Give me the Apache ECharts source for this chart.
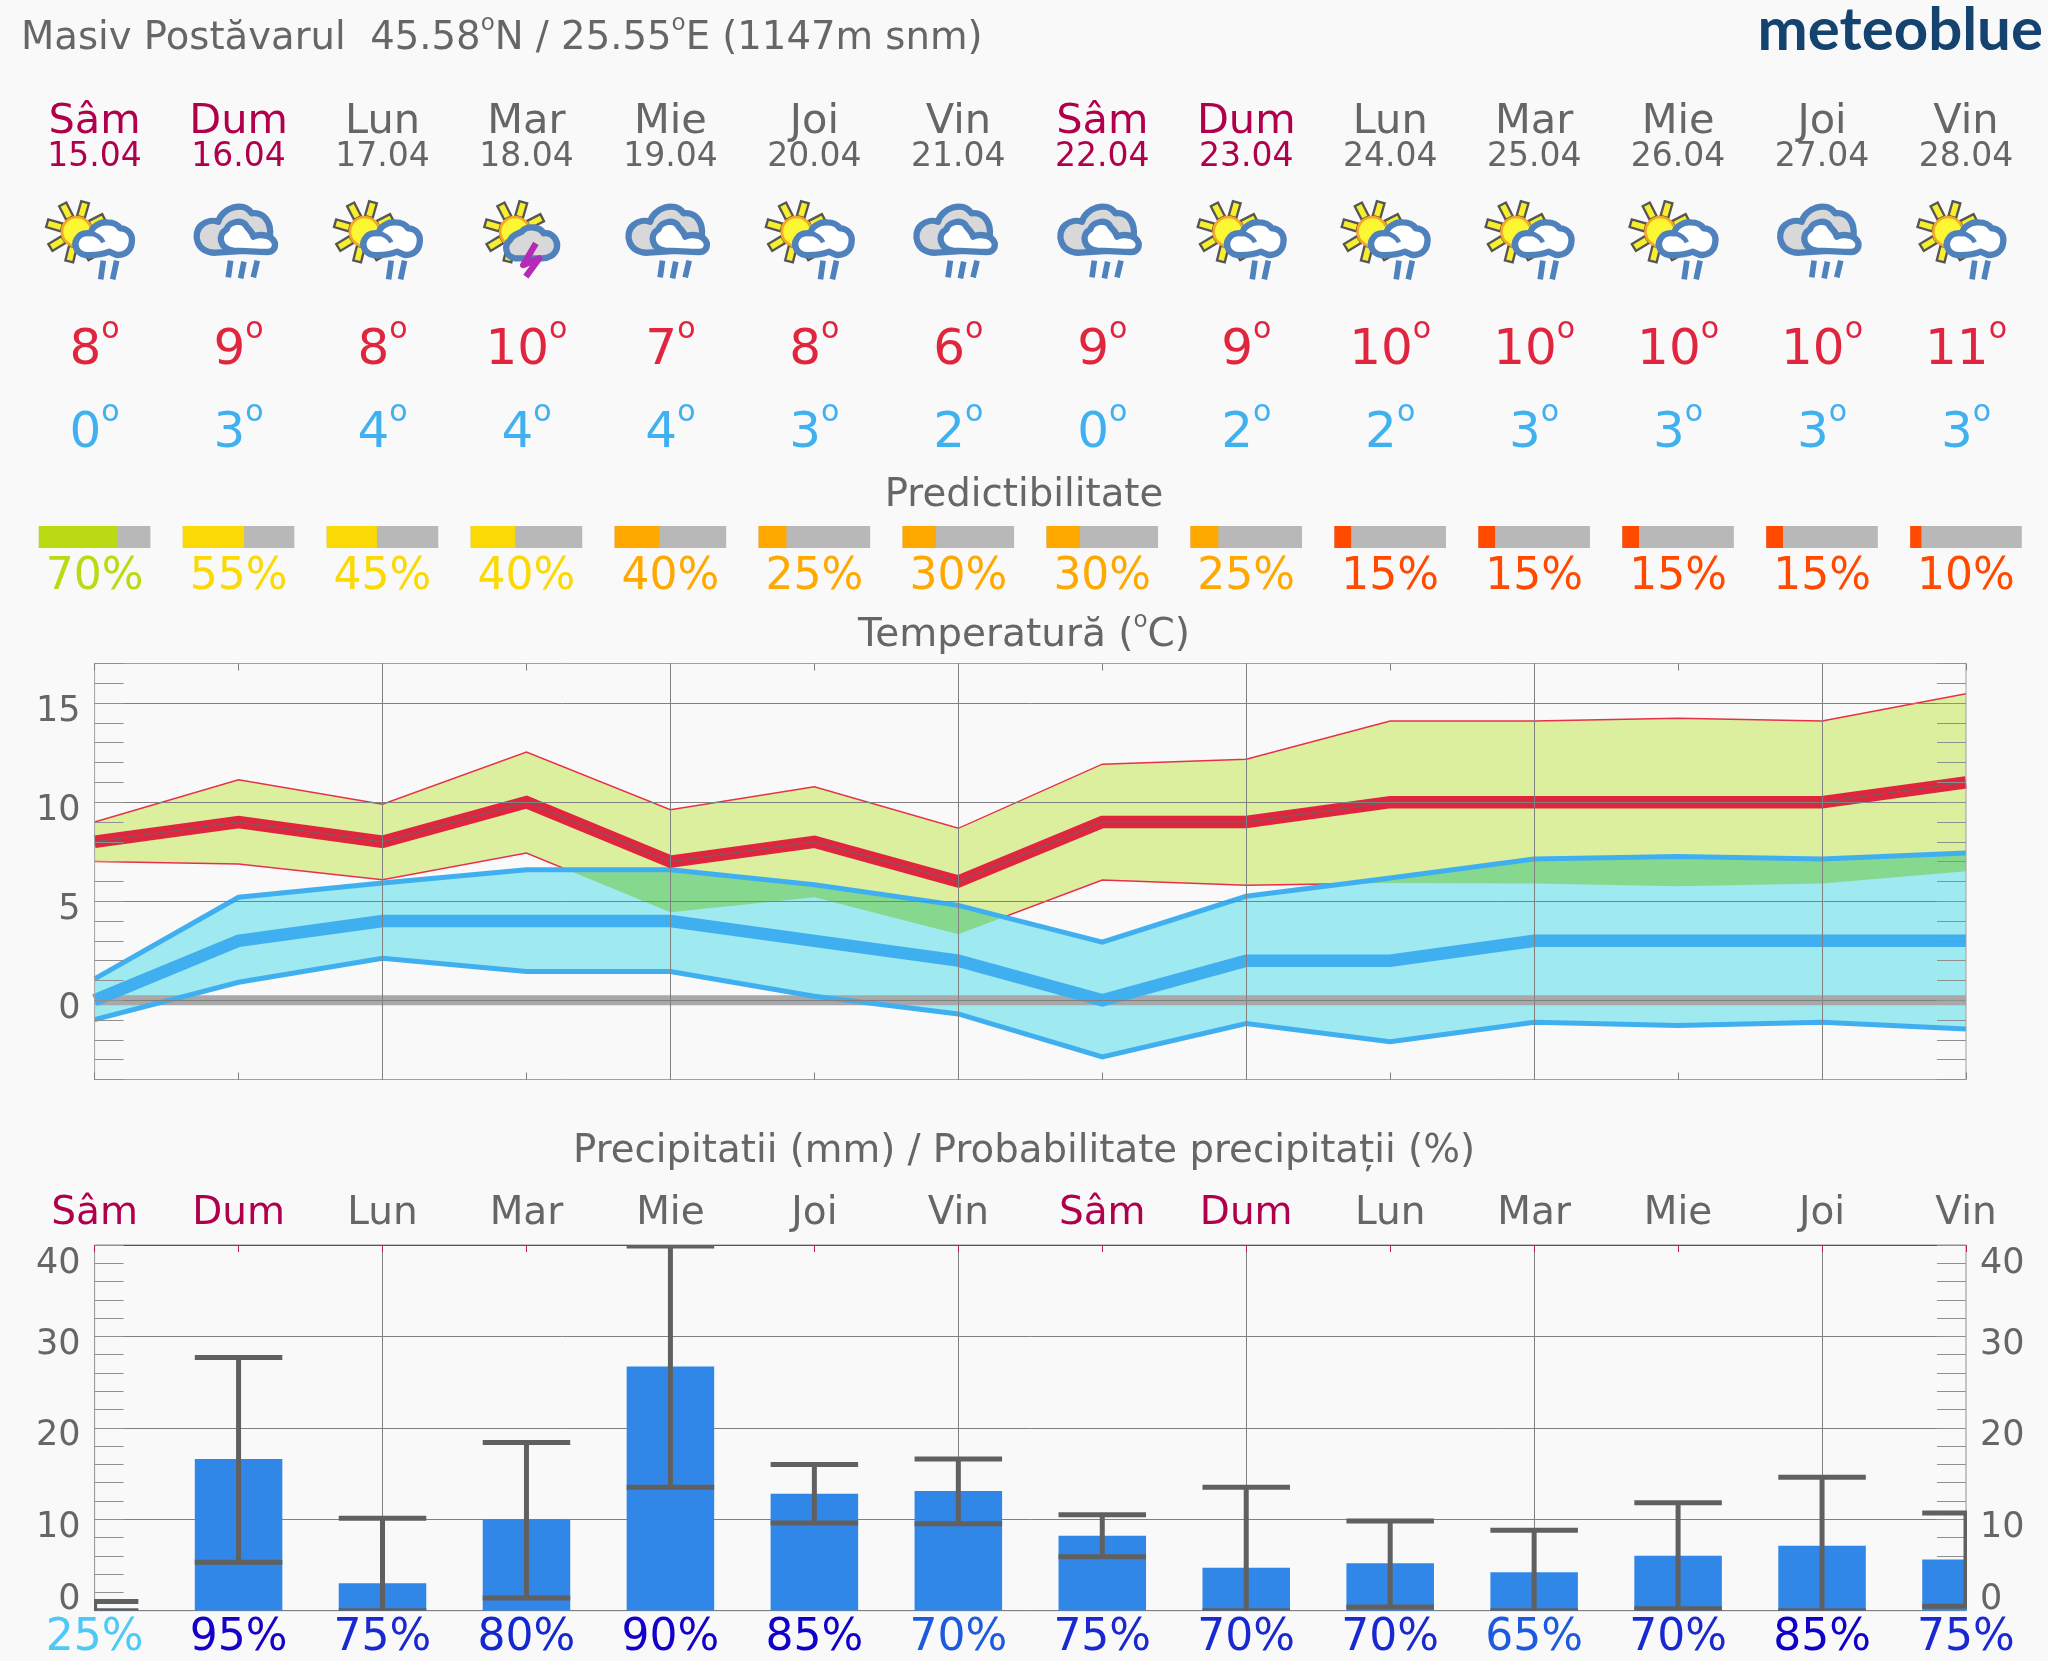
<!DOCTYPE html>
<html>
<head>
<meta charset="utf-8">
<title>meteoblue 14 zile</title>
<script src="https://cdn.jsdelivr.net/npm/echarts@6/dist/echarts.min.js"></script>
<style>
    html, body { margin: 0; padding: 0; background: #f9f9f9; }
    #chart { width: 2048px; height: 1661px; }
</style>
</head>
<body>
<div id="chart"></div>
<script>
    // zile
    const dayNames = ["Sâm", "Dum", "Lun", "Mar", "Mie", "Joi", "Vin", "Sâm", "Dum", "Lun", "Mar", "Mie", "Joi", "Vin"];
    const dayDates = ["15.04", "16.04", "17.04", "18.04", "19.04", "20.04", "21.04", "22.04", "23.04", "24.04", "25.04", "26.04", "27.04", "28.04"];
    const weekendDays = [0, 1, 7, 8];
    // 0 = soare + nor, 1 = nori, 2 = soare + fulger
    const iconTypes = [0, 1, 0, 2, 1, 0, 1, 1, 0, 0, 0, 0, 1, 0];

    const tempMaxDay = [8, 9, 8, 10, 7, 8, 6, 9, 9, 10, 10, 10, 10, 11];
    const tempMinDay = [0, 3, 4, 4, 4, 3, 2, 0, 2, 2, 3, 3, 3, 3];

    // predictibilitate
    const predictValues = [70, 55, 45, 40, 40, 25, 30, 30, 25, 15, 15, 15, 15, 10];
    const predictColors = ["#bbda14", "#fad905", "#fad905", "#fad905", "#ffa800", "#ffa800", "#ffa800", "#ffa800", "#ffa800", "#ff4a00", "#ff4a00", "#ff4a00", "#ff4a00", "#ff4a00"];

    // temperatura: benzi de incertitudine
    const redUpper = [9.0, 11.13, 9.9, 12.53, 9.62, 10.78, 8.68, 11.92, 12.17, 14.1, 14.1, 14.24, 14.1, 15.47];
    const redLower = [7.0, 6.88, 6.09, 7.43, 4.44, 5.2, 3.33, 6.07, 5.8, 5.92, 5.89, 5.75, 5.89, 6.51];
    const blueUpper = [1.08, 5.2, 5.92, 6.59, 6.59, 5.83, 4.79, 2.93, 5.25, 6.17, 7.13, 7.26, 7.13, 7.43];
    const blueLower = [-0.98, 0.91, 2.12, 1.45, 1.45, 0.2, -0.69, -2.86, -1.18, -2.09, -1.11, -1.28, -1.11, -1.45];
    const zeroLine = [0, 0, 0, 0, 0, 0, 0, 0, 0, 0, 0, 0, 0, 0];

    // precipitatii
    const precipValues = [0.1, 16.6, 3.0, 10.0, 26.7, 12.8, 13.1, 8.2, 4.7, 5.2, 4.2, 6.0, 7.1, 5.6];
    const precipHigh = [1.0, 27.7, 10.1, 18.4, 39.9, 16.0, 16.6, 10.5, 13.5, 9.8, 8.8, 11.8, 14.6, 10.7];
    const precipLow = [0, 5.3, 0, 1.4, 13.5, 9.6, 9.5, 5.9, 0, 0.4, 0, 0.2, 0, 0.5];
    const precipProb = ["25%", "95%", "75%", "80%", "90%", "85%", "70%", "75%", "70%", "70%", "65%", "70%", "85%", "75%"];
    const precipProbColors = ["#4dc9f6", "#1400c8", "#1a28d0", "#1428d2", "#1400c8", "#1000c8", "#1e5ade", "#1a28d0", "#1a28d0", "#1a28d0", "#1e5ade", "#1a28d0", "#1000c8", "#1a28d0"];

    const fontName = "DejaVu Sans";
    const textGrey = "#666666";
    const weekendColor = "#b0004c";
    const cloudBlue = "#4f81bd";
    const days = dayNames.map((d, i) => i);

    function dayColor(value, index) {
        return weekendDays.indexOf(index) >= 0 ? weekendColor : textGrey;
    }

    function ray(angle) {
        let a = angle * Math.PI / 180;
        let c = Math.cos(a), s = Math.sin(a);
        let pts = [[46, -12], [92, -12], [92, 12], [46, 12]].map(p => [p[0] * c - p[1] * s, p[0] * s + p[1] * c]);
        return {
            type: "polygon",
            shape: { points: pts },
            style: { fill: "#f7ee30", stroke: "#555555", lineWidth: 7 }
        };
    }

    function sun(x, y, angles) {
        let parts = angles.map(ray);
        parts.push({
            type: "circle",
            shape: { cx: 0, cy: 0, r: 44 },
            style: { fill: "#fbf732", stroke: "#f5a623", lineWidth: 8 }
        });
        return { type: "group", x: x, y: y, children: parts };
    }

    function stroke(pathData, width, color) {
        return {
            type: "path",
            shape: { pathData: pathData },
            style: { fill: null, stroke: color, lineWidth: width, lineCap: "butt", lineJoin: "round" }
        };
    }

    function cloud(pathData, fill) {
        return {
            type: "path",
            shape: { pathData: pathData },
            style: { fill: fill, stroke: cloudBlue, lineWidth: 19, lineJoin: "round" }
        };
    }

    function iconParts(type) {
        if (type === 0) {
            return [
                sun(170, 125, [-117, -74, -27, -164, 149, 104, 60]),
                cloud("M195 195C170 190 160 165 170 148C178 132 195 128 212 130C215 110 240 95 262 97C280 97 295 105 300 115C325 115 340 135 335 160C332 182 315 195 295 195C285 195 275 188 268 185C250 192 220 197 195 195Z", "#ffffff"),
                stroke("M212 130C230 132 245 145 250 157", 14, cloudBlue),
                stroke("M250 212L242 268M290 212L278 268", 17, cloudBlue)
            ];
        }
        if (type === 1) {
            return [
                cloud("M158 188C98 192 83 130 113 105C128 92 148 90 163 95C173 55 238 30 263 70C303 65 323 100 318 140L313 178Z", "#d8d8d8"),
                cloud("M208 182C168 177 158 135 188 118C193 95 238 85 248 110C258 120 265 130 268 140C290 130 325 135 333 160C335 175 325 186 310 186C280 186 240 182 208 182Z", "#ffffff"),
                stroke("M248 112C262 120 270 132 272 143", 14, cloudBlue),
                stroke("M200 212L193 262M240 215L230 265M280 212L268 262", 17, cloudBlue)
            ];
        }
        return [
            sun(189, 125, [-117, -74, -27, -164, 149, 104, 60]),
            cloud("M190 205C160 200 155 165 175 150C180 135 200 130 210 125C225 105 265 110 275 130C300 125 320 150 315 175C310 195 290 205 270 205Z", "#d8d8d8"),
            stroke("M252 160L214 225L262 205L222 260", 19, "#b52bb8")
        ];
    }

    function renderIcon(params, api) {
        let x = api.coord([api.value(0), 0])[0];
        return {
            type: "group",
            x: x - 74.6,
            y: 190,
            scaleX: 1 / 3,
            scaleY: 1 / 3,
            silent: true,
            children: iconParts(api.value(1))
        };
    }

    function renderPredict(params, api) {
        let i = api.value(0);
        let left = api.coord([i, 0])[0] - 0.3875 * api.size([1, 0])[0];
        let width = 0.775 * api.size([1, 0])[0];
        let bottom = api.coord([i, 0])[1];
        let top = api.coord([i, 1])[1];
        let filled = width * api.value(1) / 100;
        return {
            type: "group",
            silent: true,
            children: [
                { type: "rect", shape: { x: left, y: top, width: width, height: bottom - top }, style: { fill: "#b8b8b8" } },
                { type: "rect", shape: { x: left, y: top, width: filled, height: bottom - top }, style: { fill: predictColors[i] } }
            ]
        };
    }

    function bandPoints(api, lower, upper) {
        let pts = [];
        upper.forEach((v, i) => pts.push(api.coord([i, v])));
        lower.slice().reverse().forEach((v, i) => pts.push(api.coord([lower.length - 1 - i, v])));
        return pts;
    }

    // banda desenata o singura data, ca un poligon intreg
    function bandRenderer(lower, upper, fill) {
        return function (params, api) {
            if (params.dataIndex !== 0) {
                return null;
            }
            return {
                type: "polygon",
                silent: true,
                shape: { points: bandPoints(api, lower, upper) },
                style: { fill: fill }
            };
        };
    }

    // zona comuna a celor doua benzi: banda albastra decupata cu cea rosie
    function renderOverlap(params, api) {
        if (params.dataIndex !== 0) {
            return null;
        }
        return {
            type: "polygon",
            silent: true,
            shape: { points: bandPoints(api, blueLower, blueUpper) },
            clipPath: { type: "polygon", shape: { points: bandPoints(api, redLower, redUpper) } },
            style: { fill: "#87d88f" }
        };
    }

    // bara pe axa fara boundaryGap: tipul "bar" nu se decupeaza la marginea gridului
    function renderPrecipBar(params, api) {
        let base = api.coord([api.value(0), 0]);
        let top = api.coord([api.value(0), api.value(1)]);
        let half = 0.304 * api.size([1, 0])[0];
        return {
            type: "rect",
            silent: true,
            shape: { x: base[0] - half, y: top[1], width: half * 2, height: base[1] - top[1] },
            style: { fill: "#3187e8" }
        };
    }

    function renderWhisker(params, api) {
        let x = api.coord([api.value(0), 0])[0];
        let y0 = api.coord([api.value(0), api.value(1)])[1];
        let y1 = api.coord([api.value(0), api.value(2)])[1];
        let half = 0.304 * api.size([1, 0])[0];
        let st = { stroke: "#606060", lineWidth: 5 };
        return {
            type: "group",
            silent: true,
            children: [
                { type: "line", shape: { x1: x, y1: y0, x2: x, y2: y1 }, style: st },
                { type: "line", shape: { x1: x - half, y1: y0, x2: x + half, y2: y0 }, style: st },
                { type: "line", shape: { x1: x - half, y1: y1, x2: x + half, y2: y1 }, style: st }
            ]
        };
    }

    function headerAxis(data, position, margin, size, color, extra) {
        let label = {
            interval: 0,
            hideOverlap: false,
            margin: margin,
            fontFamily: fontName,
            fontSize: size,
            color: color,
            verticalAlign: "middle",
            align: "center"
        };
        return {
            type: "category",
            gridIndex: 0,
            data: data,
            boundaryGap: false,
            position: position,
            axisLine: { show: false },
            axisTick: { show: false },
            splitLine: { show: false },
            axisLabel: Object.assign(label, extra || {})
        };
    }

    function degreeText(v) {
        return v + "{o|o}";
    }

    function degreeRich(color) {
        return { o: { fontFamily: fontName, fontSize: 30, color: color, padding: [0, 0, 42, 0] } };
    }

    function plotAxisX(gridIndex, position, data, labelExtra, lineExtra) {
        return {
            type: "category",
            gridIndex: gridIndex,
            data: data,
            boundaryGap: false,
            position: position,
            z: gridIndex === 1 ? 6 : 1,
            axisLine: Object.assign({ show: false, onZero: false }, lineExtra || {}),
            axisTick: {
                show: true,
                inside: true,
                length: 7,
                alignWithLabel: true,
                lineStyle: { color: lineExtra ? lineExtra.lineStyle.color : "#808080", width: 1 }
            },
            splitLine: {
                show: true,
                interval: (i) => i % 2 === 0 && i > 0 && i < 13,
                lineStyle: { color: "#808080", width: 1 }
            },
            axisLabel: labelExtra || { show: false }
        };
    }

    function yLabelStyle(padding) {
        return { fontFamily: fontName, fontSize: 35, color: textGrey, padding: padding };
    }

    function plotAxisY(gridIndex, position, min, max, interval, lineColors, showLabel) {
        return {
            type: "value",
            gridIndex: gridIndex,
            position: position,
            min: min,
            max: max,
            interval: interval,
            z: gridIndex === 1 ? 6 : 1,
            axisLine: { show: false },
            axisTick: { show: true, inside: true, length: 29, lineStyle: { color: "#909090", width: 1 } },
            splitLine: { show: !!lineColors, lineStyle: { color: lineColors || "#808080", width: 1 } },
            axisLabel: {
                show: showLabel,
                showMinLabel: true,
                showMaxLabel: true,
                hideOverlap: false,
                margin: 14,
                rich: {
                    n: yLabelStyle([17, 0, 0, 0]),
                    z: yLabelStyle([0, 0, 21, 0]),
                    t: yLabelStyle([37, 0, 0, 0])
                },
                formatter: function (v) {
                    if (gridIndex === 1) {
                        return v % 5 === 0 ? "{n|" + v + "}" : "";
                    }
                    if (v % 10 !== 0) {
                        return "";
                    }
                    return (v === 0 ? "{z|" : v === 40 ? "{t|" : "{n|") + v + "}";
                }
            }
        };
    }

    function edgeLine(values, xIndex, yIndex, color, width, z) {
        return {
            type: "line",
            data: values,
            xAxisIndex: xIndex,
            yAxisIndex: yIndex,
            symbol: "none",
            silent: true,
            z: z,
            lineStyle: { color: color, width: width, join: "miter", cap: "butt" }
        };
    }

    function titleAt(text, x, y, size, align, extraStyle) {
        return {
            text: text,
            left: x,
            top: y,
            textAlign: align,
            padding: 0,
            textStyle: Object.assign({ fontFamily: fontName, fontSize: size, fontWeight: "normal", color: textGrey }, extraStyle || {})
        };
    }

    const titleDegree = { o: { fontFamily: fontName, fontSize: 23, color: textGrey, padding: [0, 0, 29, 0] } };

    const gridLeft = 94.6;
    const gridRight = 82;

    const option = {
        backgroundColor: "#f9f9f9",
        animation: false,
        title: [
            titleAt("Masiv Postăvarul  45.58{o|o}N / 25.55{o|o}E (1147m snm)", 21, 13, 38.6, "left", { rich: titleDegree }),
            titleAt("meteoblue", 2043, 1, 60, "right", { fontFamily: "Lato", fontWeight: "bold", color: "#14436f" }),
            titleAt("Predictibilitate", 1024, 476, 38.7, "center"),
            titleAt("Temperatură ({o|o}C)", 1024, 610, 39, "center", { rich: titleDegree }),
            titleAt("Precipitatii (mm) / Probabilitate precipitații (%)", 1024, 1132, 38.7, "center")
        ],
        grid: [
            { left: gridLeft, right: gridRight, top: 526, height: 22, show: false },
            { left: gridLeft, right: gridRight, top: 663.5, height: 416, show: true, backgroundColor: "transparent", borderColor: "#a0a0a0", borderWidth: 1, z: 5 },
            { left: gridLeft, right: gridRight, top: 1245, height: 365.7, show: true, backgroundColor: "transparent", borderColor: "#909090", borderWidth: 1 }
        ],
        xAxis: [
            headerAxis(dayNames, "top", 404, 41.5, dayColor),
            headerAxis(dayDates, "top", 369, 33, dayColor),
            headerAxis(tempMaxDay, "top", 175, 50, "#e0263f", { formatter: degreeText, rich: degreeRich("#e0263f") }),
            headerAxis(tempMinDay, "top", 92, 50, "#3fb0f0", { formatter: degreeText, rich: degreeRich("#3fb0f0") }),
            headerAxis(predictValues.map(v => v + "%"), "bottom", 30, 44, (v, i) => predictColors[i]),
            plotAxisX(1, "bottom", dayNames),
            plotAxisX(1, "top", dayNames),
            plotAxisX(2, "top", dayNames, {
                interval: 0,
                hideOverlap: false,
                margin: 31,
                fontFamily: fontName,
                fontSize: 39,
                verticalAlign: "middle",
                color: dayColor
            }, { show: true, lineStyle: { color: "#c8185a", width: 1 } }),
            {
                type: "category",
                gridIndex: 2,
                data: precipProb,
                boundaryGap: false,
                position: "bottom",
                axisLine: { show: false, onZero: false },
                axisTick: { show: false },
                splitLine: { show: false },
                axisLabel: {
                    interval: 0,
                    hideOverlap: false,
                    margin: 28,
                    fontFamily: fontName,
                    fontSize: 44,
                    verticalAlign: "middle",
                    color: (v, i) => precipProbColors[i]
                }
            }
        ],
        yAxis: [
            { type: "value", gridIndex: 0, min: 0, max: 1, show: false },
            plotAxisY(1, "left", -4, 17, 1, ["transparent", "transparent", "transparent", "transparent", "#808080"], true),
            plotAxisY(1, "right", -4, 17, 1, null, false),
            plotAxisY(2, "left", 0, 40, 2, ["#808080", "transparent", "transparent", "transparent", "transparent"], true),
            plotAxisY(2, "right", 0, 40, 2, null, true)
        ],
        series: [
            {
                type: "custom",
                xAxisIndex: 0,
                yAxisIndex: 0,
                data: iconTypes.map((t, i) => [i, t]),
                encode: { x: 0, y: -1 },
                clip: false,
                renderItem: renderIcon
            },
            {
                type: "custom",
                xAxisIndex: 0,
                yAxisIndex: 0,
                data: predictValues.map((v, i) => [i, v]),
                encode: { x: 0, y: -1 },
                clip: false,
                renderItem: renderPredict
            },
            {
                type: "custom",
                xAxisIndex: 5,
                yAxisIndex: 1,
                data: days.map((d, i) => [d, redLower[i], redUpper[i]]),
                encode: { x: 0, y: [1, 2] },
                z: 1,
                renderItem: bandRenderer(redLower, redUpper, "#dbef9f")
            },
            edgeLine(redUpper, 5, 1, "#e8304a", 1.5, 1.2),
            edgeLine(redLower, 5, 1, "#e8304a", 1.5, 1.2),
            {
                type: "custom",
                xAxisIndex: 5,
                yAxisIndex: 1,
                data: days.map((d, i) => [d, blueLower[i], blueUpper[i]]),
                encode: { x: 0, y: [1, 2] },
                z: 1.4,
                renderItem: bandRenderer(blueLower, blueUpper, "#9fe9f0")
            },
            {
                type: "custom",
                xAxisIndex: 5,
                yAxisIndex: 1,
                data: days.map((d, i) => [d, blueLower[i], blueUpper[i]]),
                encode: { x: 0, y: [1, 2] },
                z: 1.5,
                renderItem: renderOverlap
            },
            edgeLine(zeroLine, 5, 1, "#a8a8a8", 10, 2),
            edgeLine(blueUpper, 5, 1, "#40aff0", 5, 3),
            edgeLine(blueLower, 5, 1, "#40aff0", 5, 3),
            edgeLine(tempMinDay, 5, 1, "#40aff0", 12.5, 4),
            edgeLine(tempMaxDay, 5, 1, "#e0263f", 12.5, 4),
            edgeLine(tempMaxDay, 5, 1, "#666666", 1, 4.5),
            {
                type: "custom",
                xAxisIndex: 7,
                yAxisIndex: 3,
                data: days.map((d, i) => [d, precipValues[i]]),
                encode: { x: 0, y: 1 },
                clip: true,
                z: 2,
                renderItem: renderPrecipBar
            },
            {
                type: "custom",
                xAxisIndex: 7,
                yAxisIndex: 3,
                data: days.map((d, i) => [d, precipLow[i], precipHigh[i]]),
                encode: { x: 0, y: [1, 2] },
                clip: true,
                z: 3,
                renderItem: renderWhisker
            }
        ]
    };

    const chart = echarts.init(document.getElementById("chart"));
    chart.setOption(option);
</script>
</body>
</html>
